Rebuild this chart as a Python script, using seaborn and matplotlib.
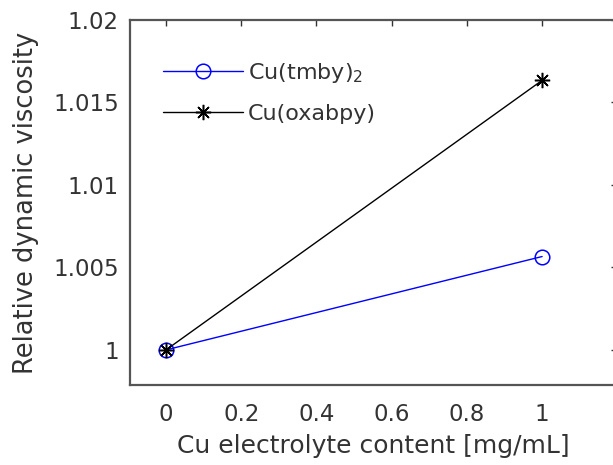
import pandas as pd
import seaborn as sns
import matplotlib.pyplot as plt

# data
content = [0, 1]
visc_tmby = [1.0000, 1.00566]
visc_oxabpy = [1.0000, 1.01634]
xticks = [0, 0.2, 0.4, 0.6, 0.8, 1]
yticks = [1.0, 1.005, 1.01, 1.015, 1.02]

sns.set_theme(style="white")
plt.rcParams['font.family'] = ['DejaVu Sans']
plt.rcParams['mathtext.fontset'] = 'dejavusans'

df = pd.DataFrame({"content": content, "tmby": visc_tmby, "oxabpy": visc_oxabpy})

fig = plt.figure(figsize=(6.13, 4.65), dpi=100)
ax = fig.add_axes([0.212, 0.172, 0.795, 0.785])

sns.lineplot(data=df, x="content", y="tmby", ax=ax, color="#0000ff", lw=1.0,
             marker="o", markersize=10.5, markerfacecolor="none",
             markeredgecolor="#0000ff", markeredgewidth=1.1,
             label=r"Cu(tmby)$_2$")
sns.lineplot(data=df, x="content", y="oxabpy", ax=ax, color="black", lw=1.0,
             marker=(8, 2, 0), markersize=11, markeredgewidth=1.1,
             markeredgecolor="black", label="Cu(oxabpy)")

ax.set_xlim(-0.096, 1.2)
ax.set_ylim(0.99787, 1.02)
ax.set_xticks(xticks)
ax.set_xticklabels(["0", "0.2", "0.4", "0.6", "0.8", "1"])
ax.set_yticks(yticks)
ax.set_yticklabels(["1", "1.005", "1.01", "1.015", "1.02"])

txt = "#333333"
ax.tick_params(axis="both", direction="in", length=4, width=1.0, color=txt,
               labelsize=16.5, labelcolor=txt, top=True, right=True)
ax.tick_params(axis="x", pad=13)
ax.tick_params(axis="y", pad=8)
for s in ax.spines.values():
    s.set_color("#555555")
    s.set_linewidth(1.6)

ax.set_xlabel("Cu electrolyte content [mg/mL]", fontsize=18, color=txt, labelpad=6)
ax.set_ylabel("Relative dynamic viscosity", fontsize=18.5, color=txt, labelpad=10)

leg = ax.legend(loc="upper left", frameon=False, fontsize=16, handlelength=3.6,
                handletextpad=0.22, labelspacing=0.85, bbox_to_anchor=(0.049, 0.912),
                borderaxespad=0)
for t in leg.get_texts():
    t.set_color(txt)

fig.savefig("out.png", dpi=100)
